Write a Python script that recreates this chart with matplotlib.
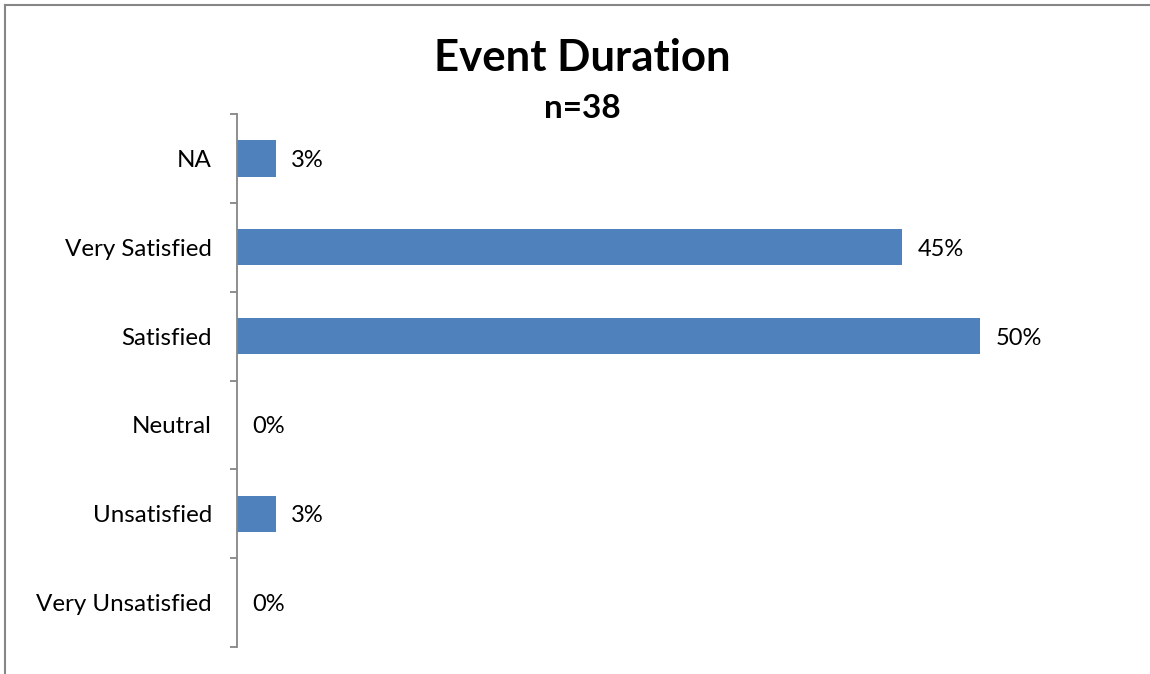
import matplotlib
matplotlib.use("Agg")
import matplotlib.pyplot as plt
from matplotlib.lines import Line2D

categories = ["Very Unsatisfied", "Unsatisfied", "Neutral", "Satisfied", "Very Satisfied", "NA"]
counts = [0, 1, 0, 19, 17, 1]
total = 38
shares = [c / total for c in counts]

title = "Event Duration"
subtitle = "n=38"
bar_color = "#4F81BD"
axis_color = "#868686"

plt.rcParams["font.family"] = ["Lato", "DejaVu Sans"]

W, H = 1150, 674
fig = plt.figure(figsize=(W / 100, H / 100), dpi=100)
ax = fig.add_axes([237 / W, 1 - 647 / H, (1129 - 237) / W, (647 - 114) / H])

y = list(range(len(categories)))
ax.barh(y, shares, height=0.41, color=bar_color, zorder=2)
ax.set_ylim(-0.5, len(categories) - 0.5)
ax.set_xlim(0, 0.6)

for yi, v in zip(y, shares):
    ax.annotate(f"{v:.0%}", xy=(v, yi), xytext=(11, 0), textcoords="offset points",
                ha="left", va="center_baseline", fontsize=17, color="#000000")

ax.set_yticks(y)
ax.set_yticklabels(categories, fontsize=17.4, va="center_baseline")
ax.set_yticks([i - 0.5 for i in range(len(categories) + 1)], minor=True)
ax.tick_params(axis="y", which="major", length=0, pad=18)
ax.tick_params(axis="y", which="minor", length=5, width=1.3, color=axis_color)
ax.set_xticks([])

for side in ("top", "right", "bottom"):
    ax.spines[side].set_visible(False)
ax.spines["left"].set_color(axis_color)
ax.spines["left"].set_linewidth(1.3)

fig.text(582 / W, 1 - 58 / H, title, ha="center", va="center", fontsize=31.5, fontweight="bold")
fig.text(582 / W, 1 - 108 / H, subtitle, ha="center", va="center", fontsize=24, fontweight="bold")

# chart frame edges along the top and left
fig.add_artist(Line2D([5 / W, 1], [1 - 5 / H, 1 - 5 / H], transform=fig.transFigure,
                      color=axis_color, linewidth=1.5))
fig.add_artist(Line2D([5 / W, 5 / W], [0, 1 - 5 / H], transform=fig.transFigure,
                      color=axis_color, linewidth=1.5))

fig.savefig("out.png", dpi=100)
